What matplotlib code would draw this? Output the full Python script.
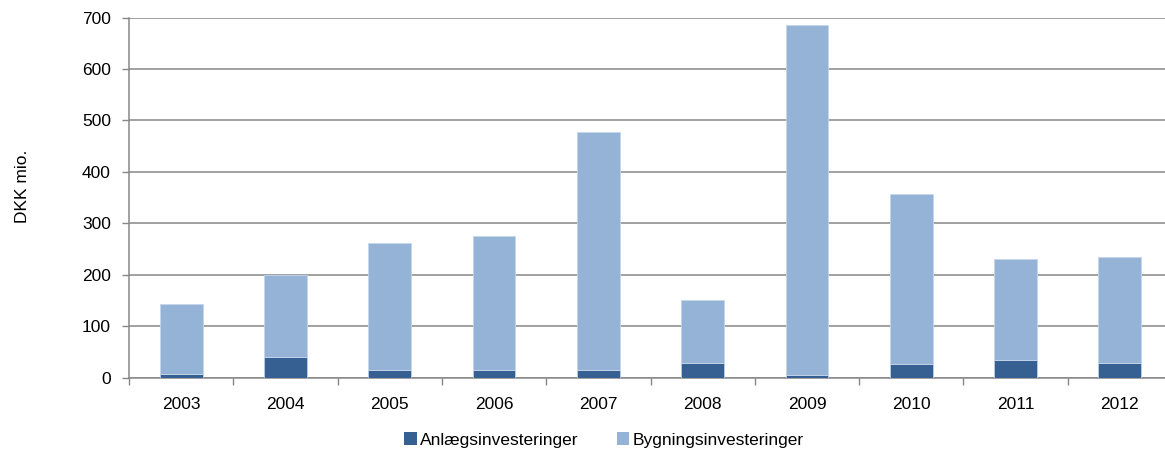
import matplotlib
matplotlib.use("Agg")
import matplotlib.pyplot as plt
from matplotlib.patches import Patch
import numpy as np

plt.rcParams['font.family'] = ['Liberation Sans', 'DejaVu Sans']

years = ['2003', '2004', '2005', '2006', '2007', '2008', '2009', '2010', '2011', '2012']
anlaeg = [7, 40, 15, 15, 15, 28, 4, 27, 34, 28]
bygning = [135.5, 158.5, 247, 261, 462.5, 122, 680.5, 330, 197, 206]
y_ticks = [0, 100, 200, 300, 400, 500, 600, 700]

dark = '#376092'
light = '#95B3D7'
grid_col = '#878787'
fs = 12.5

W, H = 1165, 449
fig = plt.figure(figsize=(W / 100, H / 100), dpi=100)
ax = fig.add_axes([129 / W, 71.5 / H, 1043 / W, 360 / H])

x = np.arange(len(years))
bw = 0.41
ax.bar(x, anlaeg, width=bw, color=dark, edgecolor='#B9CDE5', linewidth=0.6,
       zorder=3, label='Anlægsinvesteringer')
ax.bar(x, bygning, bottom=anlaeg, width=bw, color=light, edgecolor='#C6D6EA',
       linewidth=0.6, zorder=3, label='Bygningsinvesteringer')

ax.set_xlim(-0.5, len(years) - 0.5)
ax.set_ylim(0, 700)
ax.set_yticks(y_ticks)
ax.set_yticklabels([str(v) for v in y_ticks], fontsize=fs)
ax.yaxis.grid(True, color=grid_col, linewidth=1.1, zorder=0)
ax.set_axisbelow(True)

# category boundaries carry the tick marks, labels sit in the middle
ax.set_xticks(np.arange(-0.5, len(years), 1.0))
ax.set_xticklabels([])
ax.set_xticks(x, minor=True)
ax.set_xticklabels(years, minor=True, fontsize=fs)
ax.tick_params(axis='x', which='major', direction='out', length=5, color=grid_col, width=1)
ax.tick_params(axis='x', which='minor', length=0, pad=14)
ax.tick_params(axis='y', direction='out', length=5, color=grid_col, width=1, pad=8)

for s in ['top', 'right']:
    ax.spines[s].set_visible(False)
for s in ['left', 'bottom']:
    ax.spines[s].set_color(grid_col)
    ax.spines[s].set_linewidth(1.1)

ax.set_ylabel('DKK mio.', fontsize=fs)
ax.yaxis.set_label_coords(-(129 - 30) / 1043, 0.53)

handles = [Patch(facecolor=dark, edgecolor='none'), Patch(facecolor=light, edgecolor='none')]
fig.legend(handles, ['Anlægsinvesteringer', 'Bygningsinvesteringer'], loc='center',
           bbox_to_anchor=(604 / W, 1 - 440 / H), ncol=2, frameon=False,
           fontsize=fs, handlelength=0.7, handleheight=0.7, handletextpad=0.2,
           columnspacing=2.2)

fig.savefig('out.png', dpi=100)
